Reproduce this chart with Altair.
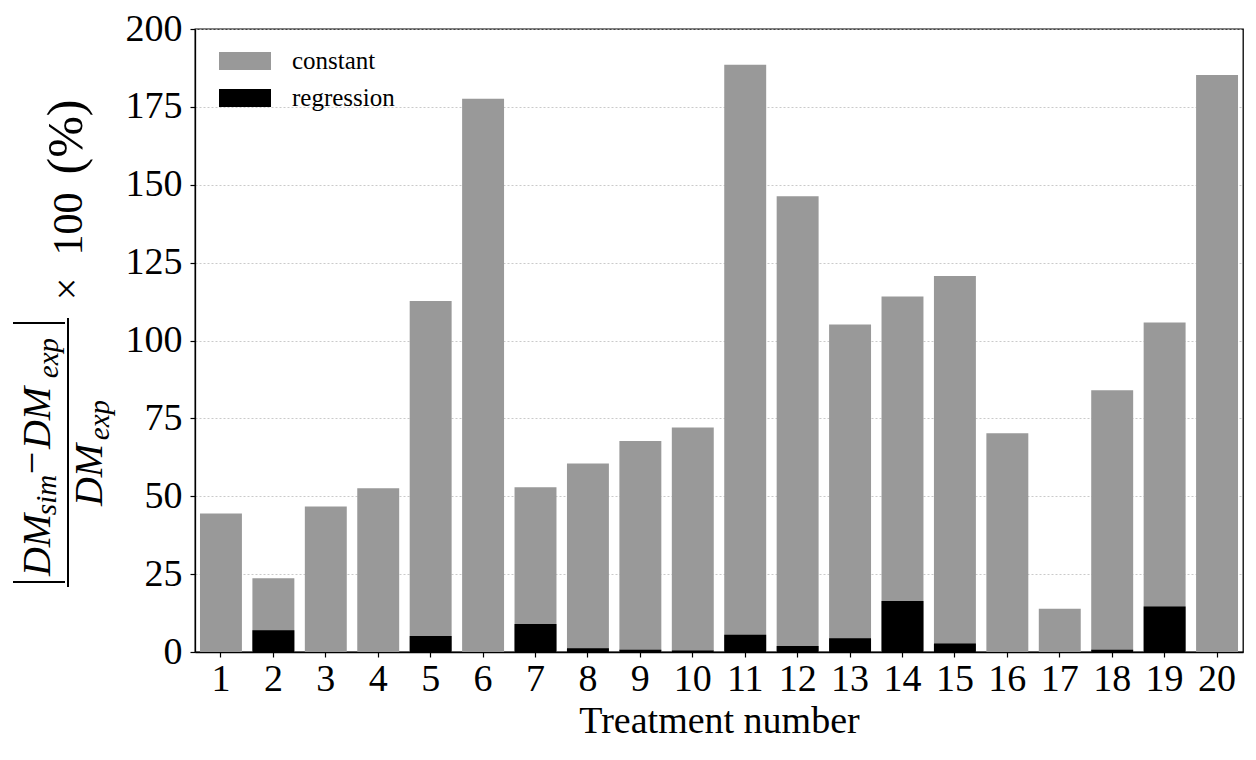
import altair as alt
import pandas as pd

treatments = list(range(1, 21))
constant = [44.5, 23.7, 46.7, 52.6, 112.7, 177.6, 52.9, 60.5, 67.7, 72.1,
            188.5, 146.3, 105.1, 114.1, 120.7, 70.2, 13.9, 84.0, 105.8, 185.2]
regression = [0.0, 7.0, 0.0, 0.0, 5.1, 0.0, 9.0, 1.2, 0.7, 0.5,
              5.5, 1.9, 4.4, 16.4, 2.7, 0.0, 0.0, 0.7, 14.6, 0.0]
series_names = ["constant", "regression"]
y_ticks = [0, 25, 50, 75, 100, 125, 150, 175, 200]

rows = []
for name, vals in zip(series_names, [constant, regression]):
    for t, v in zip(treatments, vals):
        rows.append({"treatment": t, "series": name, "value": v})
df = pd.DataFrame(rows)

FONT = "Liberation Serif"

bars = alt.Chart(df).mark_bar(strokeWidth=0, opacity=1).encode(
    x=alt.X("treatment:O",
            scale=alt.Scale(paddingInner=0.2, paddingOuter=0.095),
            axis=alt.Axis(title="Treatment number", labelAngle=0,
                          labelFontSize=38, labelPadding=3,
                          titleFontSize=38, titlePadding=4,
                          grid=False)),
    y=alt.Y("value:Q", stack=None,
            scale=alt.Scale(domain=[0, 200], nice=False),
            axis=alt.Axis(title=None, values=y_ticks, labelFontSize=38,
                          labelPadding=8, grid=True, gridColor="#bdbdbd",
                          gridDash=[2, 2], gridWidth=0.8)),
    color=alt.Color("series:N",
                    scale=alt.Scale(domain=series_names, range=["#999999", "#000000"]),
                    legend=alt.Legend(title=None, orient="none", legendX=24, legendY=23,
                                      symbolType="M-1,-0.346H1V0.346H-1Z",
                                      symbolSize=2704, symbolStrokeWidth=0,
                                      symbolOpacity=1, clipHeight=18,
                                      rowPadding=12, labelOffset=21,
                                      labelFontSize=25, labelFont=FONT,
                                      padding=0)),
    order=alt.Order("series:N")
)

one = alt.Data(values=[{}])


def txt(s, x, y, size, italic=False):
    return alt.Chart(one).mark_text(
        text=s, angle=270, align="center", baseline="alphabetic",
        font=FONT, fontSize=size, fontStyle="italic" if italic else "normal",
        color="black").encode(x=alt.value(x), y=alt.value(y))


def hrule(x1, x2, y):
    return alt.Chart(one).mark_rule(color="black", strokeWidth=2).encode(
        x=alt.value(x1), x2=alt.value(x2), y=alt.value(y))


def vrule(x, y1, y2):
    return alt.Chart(one).mark_rule(color="black", strokeWidth=2).encode(
        x=alt.value(x), y=alt.value(y1), y2=alt.value(y2))


label_parts = [
    # numerator
    txt("DM", -145, 516, 40, True),
    txt("sim", -139, 466, 29, True),
    txt("\u2212", -150, 434, 40),
    txt("DM", -145, 389, 40, True),
    txt("exp", -137, 329, 29, True),
    # denominator
    txt("DM", -93, 446, 40, True),
    txt("exp", -86, 391, 29, True),
    # x 100 (%)
    txt("\u00d7", -115, 260, 40),
    txt("100", -113, 195, 42),
    txt("(%)", -113, 108, 50),
    # fraction bar and absolute value bars
    vrule(-127, 289, 558),
    hrule(-182, -130, 294),
    hrule(-182, -130, 553),
]

chart = alt.layer(bars, *label_parts).properties(
    width=1048, height=623,
    autosize=alt.AutoSizeParams(type="none"),
    padding={"left": 187, "top": 21, "right": 5, "bottom": 90},
    background="white",
).configure_view(
    stroke="black", strokeWidth=1.3
).configure_axis(
    labelFont=FONT, titleFont=FONT, titleFontWeight="normal",
    labelColor="black", titleColor="black",
    domainColor="black", domainWidth=1.3,
    tickColor="black", tickSize=5, tickWidth=1.2,
)

chart.save("out.html", embed_options={"renderer": "svg", "actions": False})
